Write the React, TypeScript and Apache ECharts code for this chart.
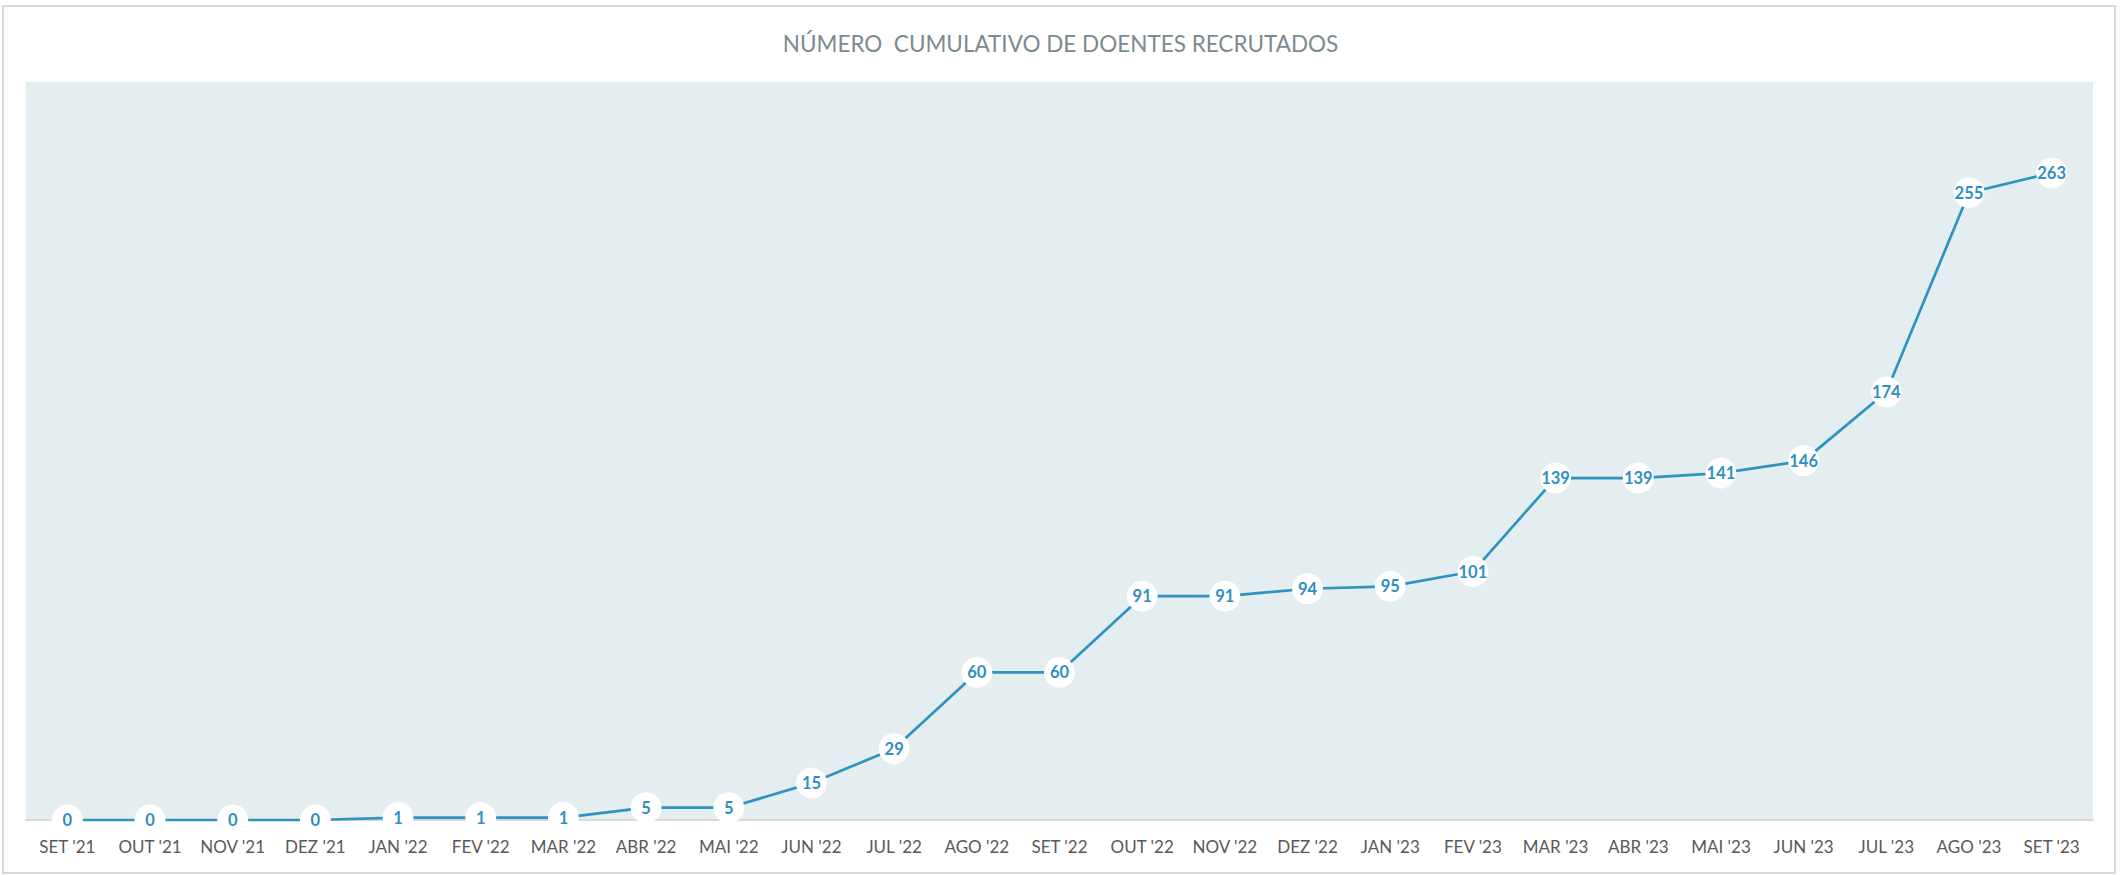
import React, { useEffect, useRef } from "react";
import * as echarts from "echarts";

const TITLE = "NÚMERO  CUMULATIVO DE DOENTES RECRUTADOS";
const categories = [
  "SET '21", "OUT '21", "NOV '21", "DEZ '21", "JAN '22", "FEV '22", "MAR '22",
  "ABR '22", "MAI '22", "JUN '22", "JUL '22", "AGO '22", "SET '22", "OUT '22",
  "NOV '22", "DEZ '22", "JAN '23", "FEV '23", "MAR '23", "ABR '23", "MAI '23",
  "JUN '23", "JUL '23", "AGO '23", "SET '23",
];
const values = [
  0, 0, 0, 0, 1, 1, 1, 5, 5, 15, 29, 60, 60, 91, 91, 94, 95, 101, 139, 139,
  141, 146, 174, 255, 263,
];
const yMin = 0;
const yMax = 300;

const FONT = "Lato, 'Open Sans', sans-serif";

export default function App() {
  const ref = useRef<HTMLDivElement>(null);
  useEffect(() => {
    document.body.style.margin = "0";
    if (!ref.current) return;
    const chart = echarts.init(ref.current, undefined, { renderer: "svg" });
    chart.setOption({
      animation: false,
      backgroundColor: "#ffffff",
      title: {
        text: TITLE,
        left: "center",
        top: 27,
        textStyle: {
          fontFamily: FONT,
          fontSize: 22.5,
          fontWeight: "normal",
          color: "#7b8b8e",
        },
      },
      graphic: [
        {
          type: "rect",
          shape: { x: 3, y: 6, width: 2112, height: 867 },
          style: { fill: "none", stroke: "#d9d9d9", lineWidth: 2 },
          silent: true,
          z: 100,
        },
      ],
      grid: {
        left: 26,
        right: 28,
        top: 82,
        bottom: 55,
        show: true,
        backgroundColor: "#e4edef",
        borderWidth: 0,
      },
      xAxis: {
        type: "category",
        data: categories,
        boundaryGap: true,
        axisLine: { show: true, lineStyle: { color: "#d9d9d9", width: 2 } },
        axisTick: { show: false },
        axisLabel: {
          color: "#595959",
          fontSize: 17,
          fontFamily: FONT,
          margin: 18,
          interval: 0,
        },
        splitLine: { show: false },
      },
      yAxis: {
        type: "value",
        min: yMin,
        max: yMax,
        show: false,
        splitLine: { show: false },
      },
      series: [
        {
          type: "line",
          data: values,
          clip: false,
          symbol: "circle",
          symbolSize: 31,
          showAllSymbol: true,
          itemStyle: { color: "#ffffff", borderWidth: 0 },
          lineStyle: { color: "#2f93c1", width: 2.7 },
          label: {
            show: true,
            position: "inside",
            color: "#2f8fbf",
            fontWeight: "bold",
            fontSize: 16.5,
            fontFamily: FONT,
          },
          z: 3,
        },
      ],
    });
    return () => chart.dispose();
  }, []);
  return <div ref={ref} style={{ width: 2121, height: 875 }} />;
}
